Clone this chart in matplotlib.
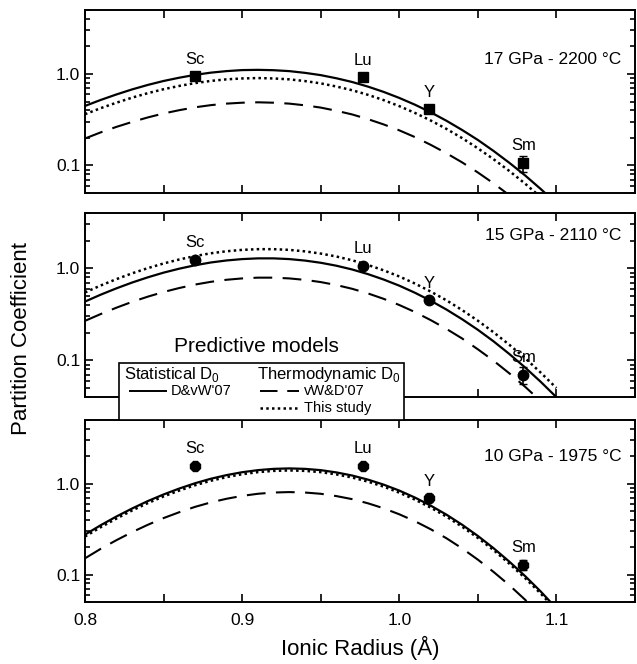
import matplotlib.pyplot as plt
from matplotlib.lines import Line2D
from matplotlib.patches import Rectangle
from matplotlib.ticker import FixedLocator, FixedFormatter, LogLocator, NullFormatter

plt.rcParams['font.family'] = ['Liberation Sans', 'DejaVu Sans']

# ionic radius grid for the model curves (Angstrom)
radius = [0.80, 0.81, 0.82, 0.83, 0.84, 0.85, 0.86, 0.87, 0.88, 0.89,
          0.90, 0.91, 0.92, 0.93, 0.94, 0.95, 0.96, 0.97, 0.98, 0.99,
          1.00, 1.01, 1.02, 1.03, 1.04, 1.05, 1.06, 1.07, 1.08, 1.09, 1.10]

elements = ['Sc', 'Lu', 'Y', 'Sm']
elem_radius = [0.870, 0.977, 1.019, 1.079]

# 17 GPa - 2200 C
p17_dvw = [0.447, 0.520, 0.597, 0.678, 0.759, 0.838, 0.910, 0.977, 1.033, 1.074,
           1.102, 1.109, 1.099, 1.074, 1.028, 0.971, 0.897, 0.817, 0.728, 0.637,
           0.547, 0.461, 0.381, 0.308, 0.244, 0.190, 0.144, 0.107, 0.0780, 0.0553, 0.0385]
p17_vwd = [0.197, 0.230, 0.264, 0.299, 0.335, 0.370, 0.402, 0.432, 0.456, 0.474,
           0.485, 0.490, 0.485, 0.474, 0.454, 0.429, 0.396, 0.361, 0.321, 0.281,
           0.242, 0.204, 0.168, 0.136, 0.108, 0.0838, 0.0637, 0.0473, 0.0344, 0.0244, 0.017]
p17_this = [0.363, 0.423, 0.485, 0.551, 0.617, 0.681, 0.740, 0.794, 0.839, 0.873,
            0.893, 0.902, 0.893, 0.873, 0.836, 0.789, 0.729, 0.664, 0.592, 0.518,
            0.445, 0.375, 0.310, 0.251, 0.199, 0.154, 0.117, 0.0871, 0.0634, 0.0450, 0.0313]
p17_meas = [0.94, 0.92, 0.41, 0.106]
p17_err = [0.0, 0.0, 0.0, 0.022]

# 15 GPa - 2110 C
p15_dvw = [0.436, 0.518, 0.607, 0.702, 0.800, 0.899, 0.993, 1.081, 1.159, 1.219,
           1.262, 1.285, 1.285, 1.262, 1.216, 1.151, 1.069, 0.973, 0.867, 0.757,
           0.649, 0.543, 0.445, 0.357, 0.280, 0.215, 0.161, 0.1175, 0.0839, 0.0585, 0.0398]
p15_vwd = [0.269, 0.319, 0.374, 0.433, 0.493, 0.554, 0.612, 0.667, 0.714, 0.752,
           0.778, 0.793, 0.793, 0.778, 0.750, 0.710, 0.659, 0.600, 0.535, 0.467,
           0.400, 0.335, 0.274, 0.220, 0.173, 0.132, 0.0991, 0.0724, 0.0518, 0.0361, 0.0245]
p15_this = [0.548, 0.652, 0.764, 0.884, 1.007, 1.131, 1.250, 1.361, 1.459, 1.535,
            1.589, 1.618, 1.618, 1.589, 1.531, 1.449, 1.346, 1.225, 1.091, 0.953,
            0.817, 0.684, 0.560, 0.450, 0.352, 0.270, 0.202, 0.148, 0.106, 0.0736, 0.0501]
p15_meas = [1.24, 1.07, 0.45, 0.070]
p15_err = [0.0, 0.0, 0.0, 0.015]

# 10 GPa - 1975 C
p10_dvw = [0.275, 0.349, 0.435, 0.533, 0.643, 0.760, 0.883, 1.009, 1.130, 1.239,
           1.334, 1.406, 1.452, 1.469, 1.452, 1.406, 1.327, 1.227, 1.107, 0.975,
           0.838, 0.702, 0.573, 0.456, 0.353, 0.266, 0.195, 0.139, 0.0966, 0.0652, 0.0426]
p10_vwd = [0.151, 0.192, 0.239, 0.293, 0.353, 0.418, 0.485, 0.555, 0.621, 0.681,
           0.733, 0.773, 0.798, 0.807, 0.798, 0.773, 0.729, 0.675, 0.608, 0.536,
           0.460, 0.386, 0.315, 0.251, 0.194, 0.146, 0.107, 0.0766, 0.0531, 0.0358, 0.0234]
p10_this = [0.262, 0.332, 0.413, 0.507, 0.611, 0.723, 0.839, 0.959, 1.074, 1.178,
            1.268, 1.337, 1.380, 1.396, 1.380, 1.337, 1.262, 1.167, 1.052, 0.927,
            0.796, 0.667, 0.545, 0.434, 0.336, 0.253, 0.186, 0.132, 0.0918, 0.0619, 0.0405]
p10_meas = [1.57, 1.57, 0.69, 0.129]
p10_err = [0.0, 0.0, 0.07, 0.016]

panels = [
    ('17 GPa - 2200 °C', p17_dvw, p17_vwd, p17_this, p17_meas, p17_err, 's', (0.05, 5), 0.73),
    ('15 GPa - 2110 °C', p15_dvw, p15_vwd, p15_this, p15_meas, p15_err, 'o', (0.04, 4), 0.875),
    ('10 GPa - 1975 °C', p10_dvw, p10_vwd, p10_this, p10_meas, p10_err, '8', (0.05, 5), 0.80),
]

W, H = 637, 664
fig = plt.figure(figsize=(W / 100, H / 100), dpi=100)
boxes = [(10, 193), (213, 397), (420, 602)]

for i, (title, dvw, vwd, this, meas, err, mk, ylim, ty) in enumerate(panels):
    top, bot = boxes[i]
    ax = fig.add_axes([85 / W, 1 - bot / H, 550 / W, (bot - top) / H])
    ax.set_yscale('log')
    ax.plot(radius, dvw, color='black', lw=1.6, ls='-')
    ax.plot(radius, vwd, color='black', lw=1.5, ls=(0, (9, 5)))
    ax.plot(radius, this, color='black', lw=1.8, ls=(0, (1, 1.3)))
    ax.errorbar(elem_radius, meas, yerr=err, fmt=mk, color='black', ms=7.5,
                elinewidth=1.2, capsize=3, zorder=5)
    for el, r, v in zip(elements, elem_radius, meas):
        ax.annotate(el, (r, v), xytext=(0, 7), textcoords='offset points',
                    ha='center', va='bottom', fontsize=12)
    ax.text(0.975, ty, title, transform=ax.transAxes, ha='right', va='center',
            fontsize=12.5)

    ax.set_xlim(0.8, 1.15)
    ax.set_ylim(*ylim)
    ax.xaxis.set_major_locator(FixedLocator([0.8, 0.9, 1.0, 1.1]))
    ax.xaxis.set_minor_locator(FixedLocator([0.85, 0.95, 1.05]))
    ax.yaxis.set_major_locator(FixedLocator([0.1, 1.0]))
    ax.yaxis.set_major_formatter(FixedFormatter(['0.1', '1.0']))
    ax.yaxis.set_minor_locator(LogLocator(subs=range(2, 10)))
    ax.yaxis.set_minor_formatter(NullFormatter())
    ax.tick_params(which='both', direction='in', top=True, right=True, width=1.2,
                   labelsize=12.5)
    ax.tick_params(axis='y', which='major', length=6)
    ax.tick_params(axis='y', which='minor', length=3.5)
    ax.tick_params(axis='x', which='both', length=6)
    for s in ax.spines.values():
        s.set_linewidth(1.4)
    if i < 2:
        ax.tick_params(axis='x', labelbottom=False)
    else:
        ax.set_xticklabels(['0.8', '0.9', '1.0', '1.1'])
        ax.tick_params(axis='x', pad=8)


# legend box drawn in figure pixels
def fx(px):
    return px / W


def fy(py):
    return 1 - py / H


fig.patches.append(Rectangle((fx(119), fy(420)), fx(404) - fx(119), fy(363) - fy(420),
                             transform=fig.transFigure, fill=True, facecolor='white',
                             edgecolor='black', lw=1.2, zorder=10))
fig.text(fx(256), fy(346), 'Predictive models', ha='center', va='center', fontsize=15)
fig.text(fx(124), fy(374), 'Statistical D$_\\mathregular{0}$', ha='left', va='center',
         fontsize=12, zorder=11)
fig.text(fx(257), fy(374), 'Thermodynamic D$_\\mathregular{0}$', ha='left', va='center',
         fontsize=12, zorder=11)
fig.lines.append(Line2D([fx(130), fx(166)], [fy(391), fy(391)], transform=fig.transFigure,
                        color='black', lw=1.4, zorder=11))
fig.text(fx(171), fy(391), "D&vW'07", ha='left', va='center', fontsize=10.5, zorder=11)
fig.lines.append(Line2D([fx(260), fx(299)], [fy(391), fy(391)], transform=fig.transFigure,
                        color='black', lw=1.4, ls=(0, (9, 5)), zorder=11))
fig.text(fx(304), fy(391), "vW&D'07", ha='left', va='center', fontsize=10.5, zorder=11)
fig.lines.append(Line2D([fx(260), fx(299)], [fy(408), fy(408)], transform=fig.transFigure,
                        color='black', lw=1.8, ls=(0, (1, 1.3)), zorder=11))
fig.text(fx(304), fy(408), 'This study', ha='left', va='center', fontsize=10.5, zorder=11)

fig.text(fx(22), 0.49, 'Partition Coefficient', rotation=90, ha='center', va='center',
         fontsize=16)
fig.text(fx(360), fy(648), 'Ionic Radius (Å)', ha='center', va='center', fontsize=16)

fig.savefig('out.png', dpi=100)
